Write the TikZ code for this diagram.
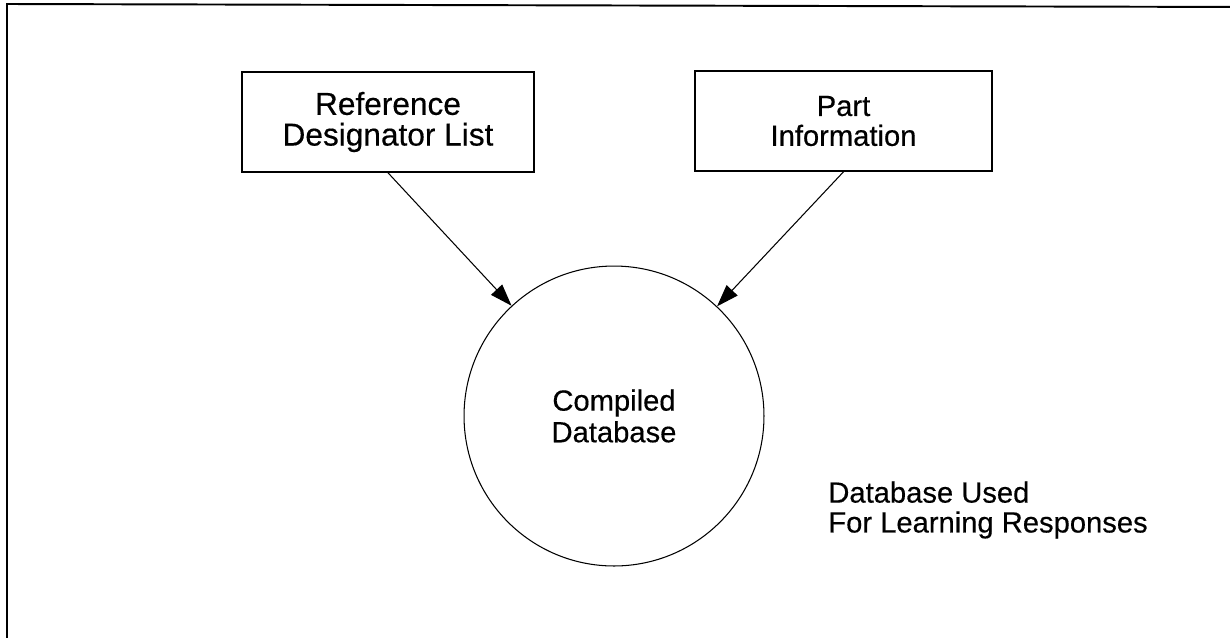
\documentclass[tikz,border=0pt]{standalone}
\usepackage{fontspec}
\setmainfont{Liberation Sans}[FakeBold=0.4]
\usetikzlibrary{arrows.meta}
\begin{document}
\begin{tikzpicture}[x=0.02cm, y=-0.02cm]
\tikzstyle{bloc} = [rectangle, draw, line width=0.9pt, align=center, font=\fontsize{18}{17.5}\selectfont, inner sep=0pt]
\tikzstyle{base} = [circle, draw, line width=0.6pt, minimum size=6cm, inner sep=0pt, align=center, font=\fontsize{16.6}{18}\selectfont]
\tikzstyle{fleche} = [line width=0.6pt, -{Triangle[length=0.44cm, width=0.3cm]}]
\clip (0,0) rectangle (1230,637);
\draw[line width=1.1pt] (7,660) -- (7,4) -- (1250,7);
\node[bloc, minimum width=5.84cm, minimum height=2cm] (R) at (388,122) {Reference\\Designator List};
\node[bloc, minimum width=5.94cm, minimum height=2cm, font=\fontsize{16.6}{17}\selectfont] (P) at (843.5,121) {Part\\Information};
\node[base] (D) at (614,416) {Compiled\\Database};
\node[anchor=west, align=left, inner sep=0pt, font=\fontsize{16.6}{17}\selectfont] (U) at (828,510) {Database Used\\For Learning Responses};
\draw[fleche] (R.south) -- (D);
\draw[fleche] (P.south) -- (D);
\end{tikzpicture}
\end{document}
